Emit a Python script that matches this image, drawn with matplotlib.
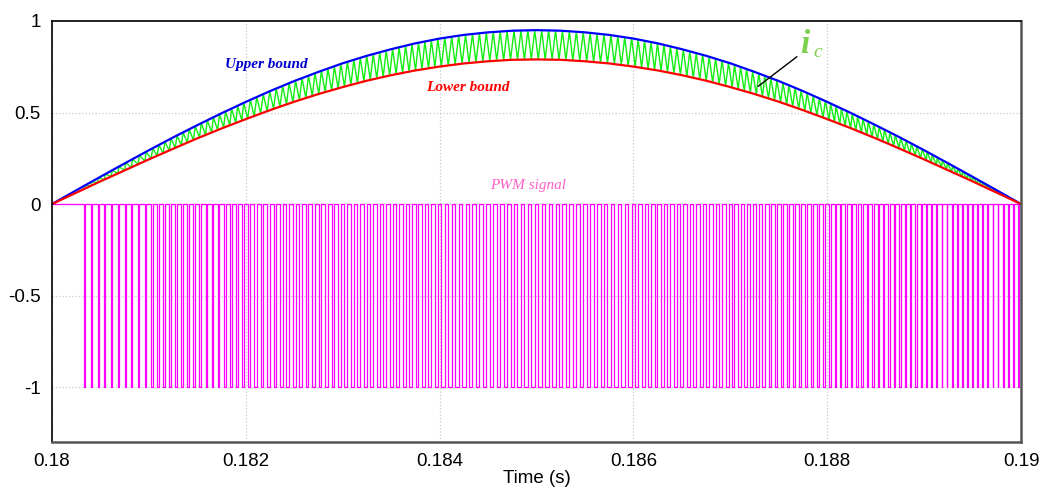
import matplotlib.pyplot as plt
import numpy as np

# bounds every 0.25 ms
t_bound = np.linspace(0.18, 0.19, 41)
upper = [0, 0.075, 0.149, 0.222, 0.294, 0.364, 0.431, 0.496, 0.558, 0.617, 0.672,
         0.722, 0.769, 0.810, 0.846, 0.878, 0.904, 0.924, 0.938, 0.947, 0.95,
         0.947, 0.938, 0.924, 0.904, 0.878, 0.846, 0.810, 0.769, 0.722, 0.672,
         0.617, 0.558, 0.496, 0.431, 0.364, 0.294, 0.222, 0.149, 0.075, 0]
lower = [0, 0.062, 0.124, 0.184, 0.244, 0.302, 0.359, 0.413, 0.464, 0.513, 0.559,
         0.601, 0.639, 0.674, 0.704, 0.730, 0.751, 0.768, 0.780, 0.788, 0.79,
         0.788, 0.780, 0.768, 0.751, 0.730, 0.704, 0.674, 0.639, 0.601, 0.559,
         0.513, 0.464, 0.413, 0.359, 0.302, 0.244, 0.184, 0.124, 0.062, 0]

# PWM: pulse count and duty (fraction at -1) per segment
seg_edges = [0.1803, 0.181, 0.182, 0.183, 0.184, 0.185, 0.186, 0.187, 0.188, 0.189, 0.19]
pulses_per_seg = [10, 16, 15, 15, 14, 14, 15, 16, 18, 19]
duty_per_seg = [0.15, 0.3, 0.4, 0.45, 0.5, 0.5, 0.45, 0.38, 0.28, 0.15]


def build_signals():
    pwm_t, pwm_v = [0.18], [0]
    ic_t, ic_v = [0.18], [0]
    for k in range(len(pulses_per_seg)):
        a, b = seg_edges[k], seg_edges[k + 1]
        n, d = pulses_per_seg[k], duty_per_seg[k]
        period = (b - a) / n
        for j in range(n):
            t0 = a + (j + 0.5) * period - d * period / 2
            t1 = t0 + d * period
            pwm_t += [t0, t0, t1, t1]
            pwm_v += [0, -1, -1, 0]
            ic_t += [t0, t1]
            ic_v += [np.interp(t0, t_bound, lower), np.interp(t1, t_bound, upper)]
    pwm_t.append(0.19)
    pwm_v.append(0)
    ic_t.append(0.19)
    ic_v.append(0)
    return pwm_t, pwm_v, ic_t, ic_v


pwm_t, pwm_v, ic_t, ic_v = build_signals()

fig = plt.figure(figsize=(10.44, 4.88), dpi=100)
ax = fig.add_axes([52 / 1044, 1 - 442 / 488, (1021 - 52) / 1044, (442 - 21) / 488])

ax.plot(pwm_t, pwm_v, color='#ff00ff', lw=0.9)
ax.plot(ic_t, ic_v, color='#11ee11', lw=1.0)
ax.plot(t_bound, upper, color='#0000ff', lw=1.6)
ax.plot(t_bound, lower, color='#ff0000', lw=1.6)

ax.set_xlim(0.18, 0.19)
ax.set_ylim(-1.3, 1.0)
ax.set_xticks([0.18, 0.182, 0.184, 0.186, 0.188, 0.19])
ax.set_xticklabels(['0.18', '0.182', '0.184', '0.186', '0.188', '0.19'])
ax.set_yticks([-1, -0.5, 0, 0.5, 1])
ax.set_yticklabels(['-1', '-0.5', '0', '0.5', '1'])
ax.tick_params(length=0, labelsize=13.5, pad=8)
for lab in ax.get_xticklabels() + ax.get_yticklabels():
    lab.set_fontfamily('Liberation Sans')
ax.grid(True, color='#c8c8c8', linestyle=':', lw=0.9)
ax.set_xlabel('Time (s)', fontsize=13.5, family='Liberation Sans', labelpad=0)

for side in ['top', 'left']:
    ax.spines[side].set_color('black')
    ax.spines[side].set_linewidth(1.2)
for side in ['bottom', 'right']:
    ax.spines[side].set_color('#555555')
    ax.spines[side].set_linewidth(1.8)

serif = 'Liberation Serif'
ax.text(0.18221, 0.765, 'Upper bound', color='#0000cc', fontsize=11, family=serif,
        style='italic', weight='bold', ha='center', va='center')
ax.text(0.18429, 0.634, 'Lower bound', color='#ff0000', fontsize=11, family=serif,
        style='italic', weight='bold', ha='center', va='center')
ax.text(0.18491, 0.104, 'PWM signal', color='#ff5fc8', fontsize=11, family=serif,
        style='italic', ha='center', va='center')
ax.text(0.18777, 0.87, 'i', color='#80d050', fontsize=24, family=serif,
        style='italic', weight='bold', ha='center', va='center')
ax.text(0.18790, 0.83, 'c', color='#80d050', fontsize=14, family=serif,
        style='italic', ha='center', va='center')
ax.annotate('', xy=(0.187265, 0.634), xytext=(0.18771, 0.814),
            arrowprops=dict(arrowstyle='-', color='black', lw=1))

plt.savefig('out.png', dpi=100)
